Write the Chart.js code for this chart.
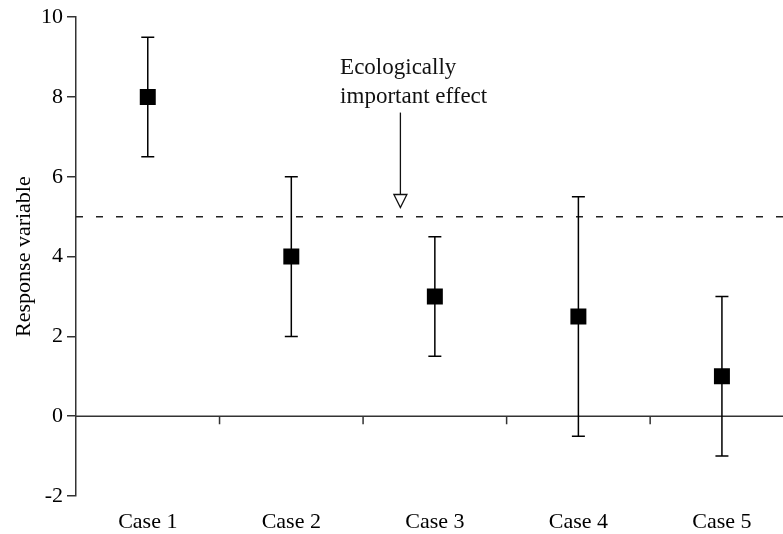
<!DOCTYPE html>
<html>
<head>
<meta charset="utf-8">
<script src="https://cdn.jsdelivr.net/npm/chart.js@4.4.1/dist/chart.umd.min.js"></script>
<style>
  html, body { margin: 0; padding: 0; background: #fff; overflow: hidden; }
  #wrap { width: 805px; height: 534px; }
</style>
</head>
<body>
<div id="wrap"><canvas id="chart" width="805" height="534"></canvas></div>
<script>
// values
const categories = ['Case 1', 'Case 2', 'Case 3', 'Case 4', 'Case 5'];
const means = [8, 4, 3, 2.5, 1];
const lower = [6.5, 2, 1.5, -0.5, -1];
const upper = [9.5, 6, 4.5, 5.5, 3];
const threshold = 5;
const noteLines = ['Ecologically', 'important effect'];

Chart.defaults.font.family = '"Liberation Serif", "Times New Roman", serif';
Chart.defaults.color = '#000';

// dashed threshold, zero line and the error bars, drawn under the squares
const errorBarPlugin = {
  id: 'errorBars',
  beforeDatasetsDraw(chart) {
    const { ctx, chartArea, scales: { x, y } } = chart;
    ctx.save();
    ctx.lineWidth = 1.5;

    const yt = y.getPixelForValue(threshold);
    ctx.strokeStyle = '#222';
    ctx.setLineDash([7, 13]);
    ctx.beginPath();
    ctx.moveTo(chartArea.left, yt);
    ctx.lineTo(chartArea.right, yt);
    ctx.stroke();
    ctx.setLineDash([]);

    const y0 = y.getPixelForValue(0);
    ctx.strokeStyle = '#333';
    ctx.beginPath();
    ctx.moveTo(chartArea.left, y0);
    ctx.lineTo(chartArea.right, y0);
    for (let i = 1; i < categories.length; i++) {
      const xb = x.getPixelForValue(i - 0.5);
      ctx.moveTo(xb, y0);
      ctx.lineTo(xb, y0 + 8);
    }
    ctx.stroke();

    ctx.strokeStyle = '#000';
    const cap = 6.5;
    lower.forEach((lo, i) => {
      const px = x.getPixelForValue(i);
      const yl = y.getPixelForValue(lo);
      const yh = y.getPixelForValue(upper[i]);
      ctx.beginPath();
      ctx.moveTo(px, yl); ctx.lineTo(px, yh);
      ctx.moveTo(px - cap, yl); ctx.lineTo(px + cap, yl);
      ctx.moveTo(px - cap, yh); ctx.lineTo(px + cap, yh);
      ctx.stroke();
    });
    ctx.restore();
  }
};

// text label with the open-headed arrow pointing at the threshold
const notePlugin = {
  id: 'note',
  afterDatasetsDraw(chart, args, opts) {
    const { ctx, scales: { x, y } } = chart;
    ctx.save();
    ctx.fillStyle = '#111';
    ctx.font = '23px "Liberation Serif", "Times New Roman", serif';
    ctx.textAlign = 'left';
    ctx.textBaseline = 'alphabetic';
    const tx = x.getPixelForValue(opts.textX);
    opts.textY.forEach((v, i) => ctx.fillText(noteLines[i], tx, y.getPixelForValue(v)));

    const ax = x.getPixelForValue(opts.arrowX);
    const top = y.getPixelForValue(opts.arrowFrom);
    const tip = y.getPixelForValue(opts.arrowTo);
    const head = 13;
    ctx.strokeStyle = '#111';
    ctx.lineWidth = 1.3;
    ctx.beginPath();
    ctx.moveTo(ax, top);
    ctx.lineTo(ax, tip - head);
    ctx.stroke();
    ctx.beginPath();
    ctx.moveTo(ax - 6.5, tip - head);
    ctx.lineTo(ax + 6.5, tip - head);
    ctx.lineTo(ax, tip);
    ctx.closePath();
    ctx.fillStyle = '#fff';
    ctx.fill();
    ctx.stroke();
    ctx.restore();
  }
};

new Chart(document.getElementById('chart'), {
  type: 'line',
  data: {
    labels: categories,
    datasets: [{
      label: 'Response',
      data: means,
      showLine: false,
      pointStyle: 'rect',
      pointRadius: 11.3,
      pointHoverRadius: 11.3,
      pointBorderWidth: 0,
      backgroundColor: '#000',
      borderColor: '#000'
    }]
  },
  options: {
    responsive: false,
    animation: false,
    devicePixelRatio: 1,
    layout: { padding: { top: 16, right: 7.5, bottom: 0, left: 0 } },
    plugins: {
      legend: { display: false },
      tooltip: { enabled: false },
      note: { textX: 1.34, textY: [8.57, 7.84], arrowX: 1.76, arrowFrom: 7.61, arrowTo: 5.23 }
    },
    scales: {
      x: {
        type: 'category',
        offset: true,
        afterFit: s => { s.height = 38; },
        grid: { display: false, drawTicks: false },
        border: { display: false },
        ticks: { color: '#000', font: { size: 22 }, padding: 13, maxRotation: 0, autoSkip: false }
      },
      y: {
        min: -2,
        max: 10,
        afterFit: s => { s.width = 76; },
        ticks: { stepSize: 2, color: '#000', font: { size: 22 }, padding: 4 },
        grid: { drawOnChartArea: false, drawTicks: true, tickLength: 9, color: '#333', lineWidth: 1.5 },
        border: { color: '#333', width: 1.5 },
        title: {
          display: true,
          text: 'Response variable',
          color: '#000',
          font: { size: 22 },
          padding: { top: 11, bottom: 0 }
        }
      }
    }
  },
  plugins: [errorBarPlugin, notePlugin]
});
</script>
</body>
</html>
